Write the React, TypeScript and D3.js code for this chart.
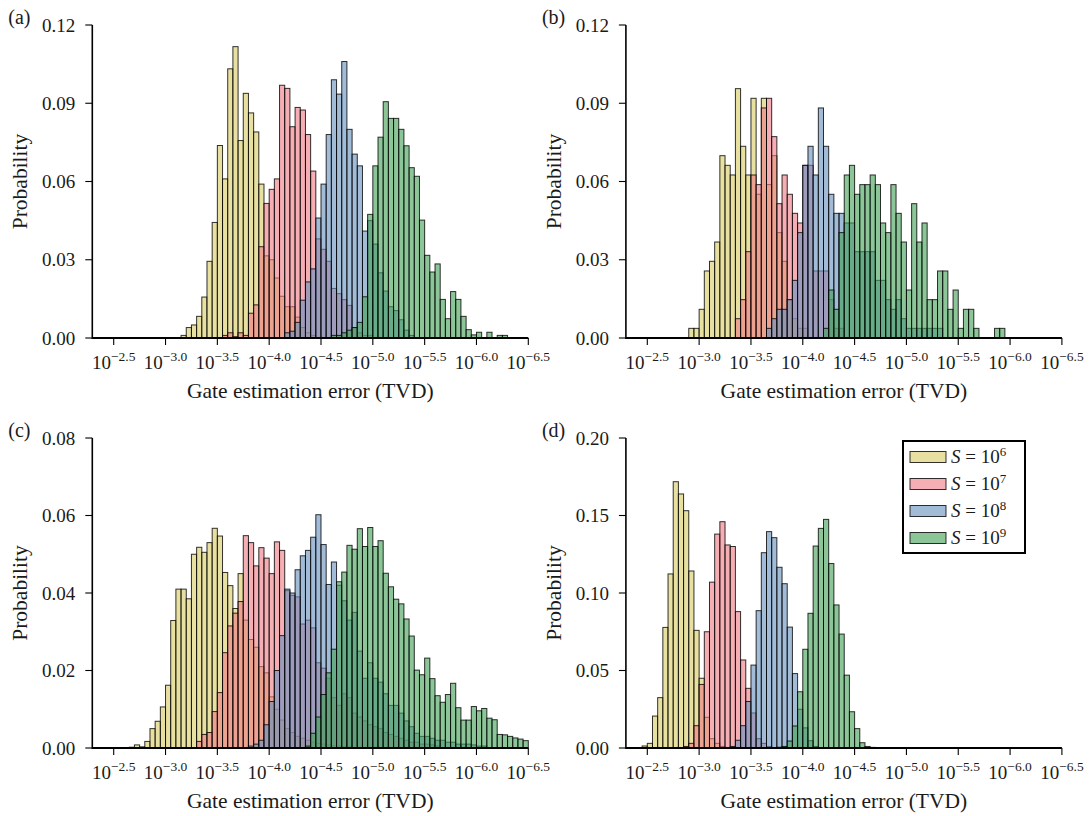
import React from "react";
import * as d3 from "d3";

// ---------- shared data ----------
const binWidth = 0.05; // bin width in decades of TVD (exponent units)
const xDomain = [2.2935, 6.5]; // -log10(TVD)
const xTickValues = [2.5, 3.0, 3.5, 4.0, 4.5, 5.0, 5.5, 6.0, 6.5];
const xTickTexts = ["−2.5", "−3.0", "−3.5", "−4.0", "−4.5", "−5.0", "−5.5", "−6.0", "−6.5"];
const seriesExponents = ["6", "7", "8", "9"];
const seriesColors = ["#d9cb61", "#ed7882", "#648fbe", "#3fa053"];

const yTicksAB = [0, 0.03, 0.06, 0.09, 0.12];
const yTicksC = [0, 0.02, 0.04, 0.06, 0.08];
const yTicksD = [0, 0.05, 0.1, 0.15, 0.2];

// ---------- panel (a) ----------
const aStarts = [3.15, 3.55, 4.15, 4.6];
const aYellow = [0.001, 0.004, 0.005, 0.0083, 0.0157, 0.0294, 0.0443, 0.0738, 0.061, 0.1032, 0.1117, 0.0757, 0.0938, 0.0863, 0.079, 0.059, 0.0315, 0.03, 0.023, 0.016, 0.012, 0.012, 0.008, 0.004, 0.002, 0.001];
const aRed = [0.001, 0.002, 0.0005, 0.002, 0.001, 0.0095, 0.0127, 0.035, 0.0516, 0.057, 0.061, 0.0969, 0.0957, 0.081, 0.0884, 0.0874, 0.078, 0.064, 0.038, 0.034, 0.0294, 0.019, 0.017, 0.0147, 0.0125, 0.004, 0.002, 0.001, 0.001];
const aBlue = [0.002, 0.0026, 0.006, 0.0145, 0.0215, 0.0265, 0.046, 0.059, 0.078, 0.099, 0.0935, 0.106, 0.08, 0.0705, 0.066, 0.041, 0.045, 0.036, 0.025, 0.018, 0.012, 0.0105, 0.007, 0.003, 0.001];
const aGreen = [0.001, 0.001, 0.002, 0.003, 0.004, 0.006, 0.0158, 0.0474, 0.066, 0.077, 0.0906, 0.0842, 0.0842, 0.08, 0.0737, 0.0653, 0.062, 0.0452, 0.0317, 0.0253, 0.0284, 0.0148, 0.0074, 0.0178, 0.0148, 0.0083, 0.0032, 0.0012, 0.0022, 0, 0.0022, 0, 0.001, 0.001];

// ---------- panel (b) ----------
const bStarts = [2.9, 3.35, 3.65, 4.2];
const bYellow = [0.0037, 0.0037, 0.011, 0.0257, 0.0294, 0.0368, 0.0699, 0.0662, 0.0625, 0.0956, 0.0735, 0.0625, 0.0919, 0.0551, 0.0919, 0.0588, 0.0699, 0.0404, 0.0294, 0.0147, 0.0074, 0.0037, 0.0037];
const bRed = [0.0074, 0.0147, 0.0331, 0.0625, 0.0588, 0.0882, 0.0919, 0.0772, 0.0515, 0.0625, 0.0551, 0.0478, 0.0441, 0.0662, 0.0662, 0.0257, 0.0257, 0.0257, 0.0147, 0.0037, 0.0037];
const bBlue = [0.0037, 0.0074, 0.011, 0.011, 0.0147, 0.0221, 0.0404, 0.0662, 0.0735, 0.0625, 0.0882, 0.0735, 0.0551, 0.0478, 0.0478, 0.0441, 0.0441, 0.0331, 0.0331, 0.0331, 0.0331, 0.0221, 0.0221, 0.0147, 0.011, 0.0147, 0.0074, 0.0037, 0.0037, 0.0037, 0.0037, 0.0037, 0.0037, 0.0037];
const bGreen = [0.0037, 0.0184, 0.011, 0.0404, 0.0625, 0.0662, 0.0551, 0.0588, 0.0588, 0.0625, 0.0588, 0.0441, 0.0404, 0.0588, 0.0478, 0.0368, 0.0184, 0.0515, 0.0368, 0.0441, 0.0147, 0.0147, 0.0257, 0.0257, 0.011, 0.0184, 0.0037, 0.011, 0.011, 0.0037, 0, 0, 0, 0.0037, 0.0037];

// ---------- panel (c) ----------
const cStarts = [2.65, 3.3, 3.8, 4.35];
const cYellow = [0.0002, 0.0008, 0.0003, 0.0017, 0.005, 0.0069, 0.0106, 0.0162, 0.0329, 0.041, 0.041, 0.0385, 0.05, 0.0518, 0.0505, 0.053, 0.0567, 0.0547, 0.0453, 0.0419, 0.036, 0.045, 0.033, 0.028, 0.026, 0.021, 0.0194, 0.0132, 0.01, 0.0072, 0.005, 0.004, 0.003, 0.0025, 0.002, 0.0015, 0.0012, 0.001, 0.0008, 0.0006, 0.0005, 0.0004, 0.0003];
const cRed = [0.0017, 0.0035, 0.004, 0.0094, 0.0143, 0.0246, 0.0315, 0.0348, 0.0378, 0.0548, 0.053, 0.047, 0.0517, 0.049, 0.045, 0.0532, 0.051, 0.0406, 0.0394, 0.039, 0.032, 0.033, 0.031, 0.022, 0.0206, 0.018, 0.013, 0.011, 0.014, 0.013, 0.009, 0.008, 0.007, 0.006, 0.0055, 0.005, 0.004, 0.0035, 0.003, 0.0025, 0.002, 0.0015, 0.0015, 0.001, 0.001, 0.0008, 0.0005];
const cBlue = [0.0005, 0.001, 0.002, 0.006, 0.012, 0.02, 0.029, 0.041, 0.04, 0.046, 0.0496, 0.051, 0.0544, 0.0602, 0.0525, 0.0422, 0.048, 0.042, 0.038, 0.033, 0.035, 0.025, 0.018, 0.022, 0.018, 0.017, 0.014, 0.011, 0.011, 0.009, 0.007, 0.0055, 0.0038, 0.003, 0.003, 0.0025, 0.002, 0.002, 0.0015, 0.0015, 0.001, 0.001, 0.001, 0.0008, 0.0005, 0.0005];
const cGreen = [0.0005, 0.0038, 0.008, 0.0138, 0.0194, 0.0255, 0.0429, 0.0454, 0.0523, 0.0513, 0.0566, 0.052, 0.0569, 0.052, 0.0535, 0.0451, 0.0416, 0.0384, 0.0372, 0.0333, 0.0289, 0.0201, 0.0189, 0.0232, 0.0179, 0.0135, 0.0118, 0.0138, 0.0167, 0.0104, 0.0072, 0.0072, 0.0107, 0.0096, 0.0102, 0.0077, 0.0073, 0.0035, 0.0034, 0.003, 0.0026, 0.0023, 0.0019];

// ---------- panel (d) ----------
const dStarts = [2.45, 2.85, 3.3, 3.75];
const dYellow = [0.0013, 0.003, 0.0206, 0.0325, 0.0778, 0.1123, 0.1718, 0.1639, 0.1531, 0.1142, 0.0759, 0.045, 0.0198, 0.006, 0.003, 0.001];
const dRed = [0.001, 0.003, 0.0144, 0.041, 0.075, 0.107, 0.138, 0.146, 0.131, 0.13, 0.088, 0.0568, 0.0385, 0.0226, 0.006, 0.003, 0.001];
const dBlue = [0.001, 0.005, 0.0144, 0.03, 0.0535, 0.0886, 0.126, 0.1396, 0.1357, 0.1166, 0.106, 0.078, 0.048, 0.025, 0.013, 0.0047, 0.001];
const dGreen = [0.0005, 0.001, 0.0045, 0.0142, 0.0363, 0.0637, 0.0869, 0.1303, 0.1417, 0.1475, 0.119, 0.0923, 0.0735, 0.047, 0.0234, 0.0125, 0.0034, 0.001, 0.0004];

const FONT = "'Liberation Serif', 'Times New Roman', serif";
const ALPHA = 0.6;
const TXT = "#1a1a1a";

type PanelSpec = {
  label: string;
  left: number;
  right: number;
  top: number;
  bottom: number;
  yTicks: number[];
  starts: number[];
  series: number[][];
};

const panels: PanelSpec[] = [
  { label: "(a)", left: 92.3, right: 528.3, top: 25, bottom: 338, yTicks: yTicksAB, starts: aStarts, series: [aYellow, aRed, aBlue, aGreen] },
  { label: "(b)", left: 625.9, right: 1061.9, top: 25, bottom: 338, yTicks: yTicksAB, starts: bStarts, series: [bYellow, bRed, bBlue, bGreen] },
  { label: "(c)", left: 92.3, right: 528.3, top: 438, bottom: 748, yTicks: yTicksC, starts: cStarts, series: [cYellow, cRed, cBlue, cGreen] },
  { label: "(d)", left: 625.9, right: 1061.9, top: 438, bottom: 748, yTicks: yTicksD, starts: dStarts, series: [dYellow, dRed, dBlue, dGreen] },
];

function Panel({ p }: { p: PanelSpec }) {
  const yMax = p.yTicks[p.yTicks.length - 1];
  const x = d3.scaleLinear().domain(xDomain).range([p.left, p.right]);
  const y = d3.scaleLinear().domain([0, yMax]).range([p.bottom, p.top]);
  const fmt = d3.format(".2f");
  const midY = (p.top + p.bottom) / 2;
  const midX = (p.left + p.right) / 2;
  return (
    <g>
      {p.series.map((vals, si) => (
        <g key={si}>
          {vals.map((v, i) => {
            if (v <= 0) return null;
            const e0 = p.starts[si] + i * binWidth;
            const x0 = x(e0);
            const x1 = x(e0 + binWidth);
            return (
              <rect
                key={i}
                x={x0}
                y={y(v)}
                width={x1 - x0}
                height={y(0) - y(v)}
                fill={seriesColors[si]}
                fillOpacity={ALPHA}
                stroke="#000"
                strokeOpacity={0.8}
                strokeWidth={1}
              />
            );
          })}
        </g>
      ))}
      <line x1={p.left} x2={p.left} y1={p.top} y2={p.bottom + 1} stroke="#000" strokeWidth={1.6} />
      <line x1={p.left} x2={p.right} y1={p.bottom} y2={p.bottom} stroke="#000" strokeWidth={2.2} />
      {p.yTicks.map((t) => (
        <g key={t}>
          <line x1={p.left - 7} x2={p.left} y1={y(t)} y2={y(t)} stroke="#000" strokeWidth={1.1} />
          <text x={p.left - 17} y={y(t)} dy="0.35em" textAnchor="end" fontFamily={FONT} fontSize={19} fill={TXT}>
            {fmt(t)}
          </text>
        </g>
      ))}
      {xTickValues.map((t, i) => (
        <g key={t}>
          <line x1={x(t)} x2={x(t)} y1={p.bottom} y2={p.bottom + 7} stroke="#000" strokeWidth={1.1} />
          <text x={x(t)} y={p.bottom + 31} textAnchor="middle" fontFamily={FONT} fontSize={19} fill={TXT}>
            <tspan>10</tspan>
            <tspan dy={-8} fontSize={13.5}>{xTickTexts[i]}</tspan>
          </text>
        </g>
      ))}
      <text x={midX} y={p.bottom + 60} textAnchor="middle" fontFamily={FONT} fontSize={21.5} fill={TXT}>
        Gate estimation error (TVD)
      </text>
      <text
        transform={`translate(${p.left - 65},${midY}) rotate(-90)`}
        textAnchor="middle"
        fontFamily={FONT}
        fontSize={21.5}
        fill={TXT}
      >
        Probability
      </text>
      <text x={p.left - 84} y={p.top - 1} fontFamily={FONT} fontSize={20} fill={TXT}>
        {p.label}
      </text>
    </g>
  );
}

function Legend() {
  const lx = 903;
  const ly = 441;
  const rows = [457, 484, 511, 538];
  return (
    <g>
      <rect x={lx} y={ly} width={122} height={112} fill="#fff" stroke="#000" strokeWidth={2} />
      {seriesExponents.map((ex, i) => (
        <g key={ex}>
          <rect
            x={lx + 7}
            y={rows[i] - 5.5}
            width={36}
            height={11}
            fill={seriesColors[i]}
            fillOpacity={ALPHA}
            stroke="#000"
            strokeOpacity={0.8}
            strokeWidth={1}
          />
          <text x={lx + 48} y={rows[i] + 6} fontFamily={FONT} fontSize={19} fill={TXT}>
            <tspan fontStyle="italic">S</tspan>
            <tspan> = 10</tspan>
            <tspan dy={-7} fontSize={13}>{ex}</tspan>
          </text>
        </g>
      ))}
    </g>
  );
}

export default function App() {
  return (
    <svg width={1089} height={816} style={{ position: "absolute", left: 0, top: 0, background: "#fff" }}>
      <rect x={0} y={0} width={1089} height={816} fill="#fff" />
      {panels.map((p) => (
        <Panel key={p.label} p={p} />
      ))}
      <Legend />
    </svg>
  );
}
